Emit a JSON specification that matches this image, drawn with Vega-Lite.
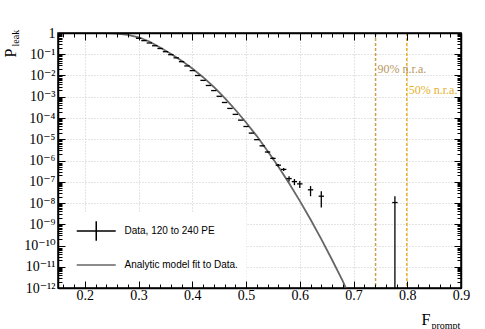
{
  "$schema": "https://vega.github.io/schema/vega-lite/v6.json",
  "width": 403,
  "height": 255,
  "autosize": {"type": "none"},
  "padding": {"left": 58, "top": 33, "right": 24, "bottom": 41},
  "background": "white",
  "config": {
    "view": {"stroke": "black", "strokeWidth": 1.5},
    "axis": {
      "labelFont": "Liberation Serif, DejaVu Serif",
      "labelFontSize": 14,
      "labelColor": "black",
      "titleFont": "Liberation Serif",
      "titleColor": "black",
      "titleFontWeight": "normal",
      "tickColor": "black",
      "tickWidth": 1,
      "domainColor": "black",
      "domainWidth": 1.5,
      "gridColor": "#c8c8c8",
      "gridDash": [1, 2],
      "gridWidth": 1,
      "labelOverlap": false,
      "labelBound": false,
      "labelFlush": false
    }
  },
  "datasets": {
    "model": [
      {"F": 0.15, "P": 1, "series": "Analytic model fit to Data."},
      {"F": 0.20, "P": 1, "series": "Analytic model fit to Data."},
      {"F": 0.22, "P": 0.998, "series": "Analytic model fit to Data."},
      {"F": 0.24, "P": 0.982, "series": "Analytic model fit to Data."},
      {"F": 0.26, "P": 0.933, "series": "Analytic model fit to Data."},
      {"F": 0.28, "P": 0.813, "series": "Analytic model fit to Data."},
      {"F": 0.30, "P": 0.631, "series": "Analytic model fit to Data."},
      {"F": 0.32, "P": 0.398, "series": "Analytic model fit to Data."},
      {"F": 0.34, "P": 0.209, "series": "Analytic model fit to Data."},
      {"F": 0.36, "P": 0.106, "series": "Analytic model fit to Data."},
      {"F": 0.38, "P": 0.0501, "series": "Analytic model fit to Data."},
      {"F": 0.40, "P": 0.0214, "series": "Analytic model fit to Data."},
      {"F": 0.42, "P": 0.00832, "series": "Analytic model fit to Data."},
      {"F": 0.44, "P": 0.00288, "series": "Analytic model fit to Data."},
      {"F": 0.46, "P": 8.91e-4, "series": "Analytic model fit to Data."},
      {"F": 0.48, "P": 2.45e-4, "series": "Analytic model fit to Data."},
      {"F": 0.50, "P": 6.17e-5, "series": "Analytic model fit to Data."},
      {"F": 0.52, "P": 1.41e-5, "series": "Analytic model fit to Data."},
      {"F": 0.54, "P": 2.82e-6, "series": "Analytic model fit to Data."},
      {"F": 0.56, "P": 5.25e-7, "series": "Analytic model fit to Data."},
      {"F": 0.58, "P": 8.51e-8, "series": "Analytic model fit to Data."},
      {"F": 0.60, "P": 1.26e-8, "series": "Analytic model fit to Data."},
      {"F": 0.62, "P": 1.66e-9, "series": "Analytic model fit to Data."},
      {"F": 0.64, "P": 2.0e-10, "series": "Analytic model fit to Data."},
      {"F": 0.66, "P": 2.14e-11, "series": "Analytic model fit to Data."},
      {"F": 0.68, "P": 2.09e-12, "series": "Analytic model fit to Data."},
      {"F": 0.70, "P": 1.5e-13, "series": "Analytic model fit to Data."}
    ],
    "points": [
      {"F": 0.30, "xlo": 0.295, "xhi": 0.305, "P": 0.5623, "lo": 0.5623, "hi": 0.5623},
      {"F": 0.31, "xlo": 0.305, "xhi": 0.315, "P": 0.4365, "lo": 0.4365, "hi": 0.4365},
      {"F": 0.32, "xlo": 0.315, "xhi": 0.325, "P": 0.3388, "lo": 0.3388, "hi": 0.3388},
      {"F": 0.33, "xlo": 0.325, "xhi": 0.335, "P": 0.2512, "lo": 0.2512, "hi": 0.2512},
      {"F": 0.34, "xlo": 0.335, "xhi": 0.345, "P": 0.1862, "lo": 0.1862, "hi": 0.1862},
      {"F": 0.35, "xlo": 0.345, "xhi": 0.355, "P": 0.1318, "lo": 0.1318, "hi": 0.1318},
      {"F": 0.36, "xlo": 0.355, "xhi": 0.365, "P": 0.0955, "lo": 0.0955, "hi": 0.0955},
      {"F": 0.37, "xlo": 0.365, "xhi": 0.375, "P": 0.0676, "lo": 0.0676, "hi": 0.0676},
      {"F": 0.38, "xlo": 0.375, "xhi": 0.385, "P": 0.0447, "lo": 0.0447, "hi": 0.0447},
      {"F": 0.39, "xlo": 0.385, "xhi": 0.395, "P": 0.0282, "lo": 0.0282, "hi": 0.0282},
      {"F": 0.40, "xlo": 0.395, "xhi": 0.405, "P": 0.0170, "lo": 0.0170, "hi": 0.0170},
      {"F": 0.41, "xlo": 0.405, "xhi": 0.415, "P": 0.0100, "lo": 0.0100, "hi": 0.0100},
      {"F": 0.42, "xlo": 0.415, "xhi": 0.425, "P": 0.00589, "lo": 0.00589, "hi": 0.00589},
      {"F": 0.43, "xlo": 0.425, "xhi": 0.435, "P": 0.00339, "lo": 0.00339, "hi": 0.00339},
      {"F": 0.44, "xlo": 0.435, "xhi": 0.445, "P": 0.00195, "lo": 0.00195, "hi": 0.00195},
      {"F": 0.45, "xlo": 0.445, "xhi": 0.455, "P": 0.00105, "lo": 0.00105, "hi": 0.00105},
      {"F": 0.46, "xlo": 0.455, "xhi": 0.465, "P": 5.37e-4, "lo": 5.35e-4, "hi": 5.39e-4},
      {"F": 0.47, "xlo": 0.465, "xhi": 0.475, "P": 2.82e-4, "lo": 2.803e-4, "hi": 2.837e-4},
      {"F": 0.48, "xlo": 0.475, "xhi": 0.485, "P": 1.48e-4, "lo": 1.4675e-4, "hi": 1.4925e-4},
      {"F": 0.49, "xlo": 0.485, "xhi": 0.495, "P": 7.94e-5, "lo": 7.85e-5, "hi": 8.03e-5},
      {"F": 0.50, "xlo": 0.495, "xhi": 0.505, "P": 3.98e-5, "lo": 3.915e-5, "hi": 4.045e-5},
      {"F": 0.51, "xlo": 0.505, "xhi": 0.515, "P": 1.95e-5, "lo": 1.905e-5, "hi": 1.995e-5},
      {"F": 0.52, "xlo": 0.515, "xhi": 0.525, "P": 9.55e-6, "lo": 9.23e-6, "hi": 9.87e-6},
      {"F": 0.53, "xlo": 0.525, "xhi": 0.535, "P": 4.90e-6, "lo": 4.67e-6, "hi": 5.13e-6},
      {"F": 0.54, "xlo": 0.535, "xhi": 0.545, "P": 2.51e-6, "lo": 2.35e-6, "hi": 2.67e-6},
      {"F": 0.55, "xlo": 0.545, "xhi": 0.555, "P": 1.26e-6, "lo": 1.145e-6, "hi": 1.375e-6},
      {"F": 0.56, "xlo": 0.555, "xhi": 0.565, "P": 6.03e-7, "lo": 5.23e-7, "hi": 6.83e-7},
      {"F": 0.57, "xlo": 0.565, "xhi": 0.575, "P": 3.80e-7, "lo": 3.17e-7, "hi": 4.43e-7},
      {"F": 0.58, "xlo": 0.575, "xhi": 0.585, "P": 1.41e-7, "lo": 1.025e-7, "hi": 1.795e-7},
      {"F": 0.59, "xlo": 0.585, "xhi": 0.595, "P": 1.02e-7, "lo": 6.93e-8, "hi": 1.347e-7},
      {"F": 0.60, "xlo": 0.595, "xhi": 0.605, "P": 7.94e-8, "lo": 5.05e-8, "hi": 1.083e-7},
      {"F": 0.62, "xlo": 0.615, "xhi": 0.625, "P": 4.17e-8, "lo": 2.08e-8, "hi": 6.26e-8},
      {"F": 0.64, "xlo": 0.635, "xhi": 0.645, "P": 2.09e-8, "lo": 6.1e-9, "hi": 3.57e-8},
      {"F": 0.777, "xlo": 0.772, "xhi": 0.782, "P": 1.05e-8, "lo": 1e-14, "hi": 2.1e-8}
    ],
    "nra": [
      {"F": 0.741, "P": 0.0137, "label": "90% n.r.a."},
      {"F": 0.799, "P": 0.0014, "label": "50% n.r.a."}
    ]
  },
  "resolve": {"axis": {"x": "independent", "y": "independent"}},
  "layer": [
    {
      "data": {"name": "model"},
      "mark": {"type": "line", "color": "#666666", "strokeWidth": 1.8, "clip": true},
      "encoding": {
        "x": {
          "field": "F", "type": "quantitative",
          "scale": {"domain": [0.15, 0.9], "nice": false, "zero": false},
          "axis": {"orient": "bottom", "grid": true, "values": [0.2, 0.3, 0.4, 0.5, 0.6, 0.7, 0.8], "labels": false, "ticks": false, "domain": false, "title": null, "zindex": 0}
        },
        "y": {
          "field": "P", "type": "quantitative",
          "scale": {"type": "log", "domain": [1e-12, 1], "nice": false},
          "axis": {"orient": "left", "grid": true, "values": [1e-11, 1e-10, 1e-9, 1e-8, 1e-7, 1e-6, 1e-5, 1e-4, 1e-3, 1e-2, 1e-1], "labels": false, "ticks": false, "domain": false, "title": null, "zindex": 0}
        }
      }
    },
    {
      "data": {"name": "points"},
      "mark": {"type": "rule", "color": "black", "strokeWidth": 1.3, "clip": true},
      "encoding": {
        "x": {
          "field": "xlo", "type": "quantitative",
          "axis": {"orient": "bottom", "values": [0.2, 0.3, 0.4, 0.5, 0.6, 0.7, 0.8, 0.9], "format": ".1f", "tickSize": -7, "labelPadding": 7, "domain": true, "grid": false,
            "title": "F", "titleX": 363, "titleY": 36, "titleFontSize": 16, "titleAlign": "left", "titleBaseline": "alphabetic", "titleAngle": 0, "zindex": 1}
        },
        "x2": {"field": "xhi"},
        "y": {
          "field": "P", "type": "quantitative",
          "axis": {"orient": "left", "values": [1e-12, 1e-11, 1e-10, 1e-9, 1e-8, 1e-7, 1e-6, 1e-5, 1e-4, 1e-3, 1e-2, 1e-1, 1],
            "labelExpr": "['1','10⁻¹','10⁻²','10⁻³','10⁻⁴','10⁻⁵','10⁻⁶','10⁻⁷','10⁻⁸','10⁻⁹','10⁻¹⁰','10⁻¹¹','10⁻¹²'][round(-log(datum.value)/LN10)]",
            "tickSize": -7, "labelPadding": 10, "domain": true, "grid": false,
            "title": "P", "titleX": -43, "titleY": 24, "titleFontSize": 16, "titleAngle": 270, "titleAlign": "left", "titleBaseline": "alphabetic", "zindex": 1}
        }
      }
    },
    {
      "data": {"name": "points"},
      "mark": {"type": "rule", "color": "black", "strokeWidth": 1.3, "clip": true},
      "encoding": {
        "x": {
          "field": "F", "type": "quantitative",
          "axis": {"orient": "bottom", "values": [0.16, 0.18, 0.22, 0.24, 0.26, 0.28, 0.32, 0.34, 0.36, 0.38, 0.42, 0.44, 0.46, 0.48, 0.52, 0.54, 0.56, 0.58, 0.62, 0.64, 0.66, 0.68, 0.72, 0.74, 0.76, 0.78, 0.82, 0.84, 0.86, 0.88],
            "tickSize": -4, "labels": false, "domain": false, "grid": false,
            "title": "prompt", "titleX": 373, "titleY": 40, "titleFontSize": 10, "titleAlign": "left", "titleBaseline": "alphabetic", "titleAngle": 0, "zindex": 1}
        },
        "y": {
          "field": "lo", "type": "quantitative",
          "axis": {"orient": "left", "values": [2e-12, 3e-12, 4e-12, 5e-12, 6e-12, 7e-12, 8e-12, 9e-12, 2e-11, 3e-11, 4e-11, 5e-11, 6e-11, 7e-11, 8e-11, 9e-11, 2e-10, 3e-10, 4e-10, 5e-10, 6e-10, 7e-10, 8e-10, 9e-10, 2e-9, 3e-9, 4e-9, 5e-9, 6e-9, 7e-9, 8e-9, 9e-9, 2e-8, 3e-8, 4e-8, 5e-8, 6e-8, 7e-8, 8e-8, 9e-8, 2e-7, 3e-7, 4e-7, 5e-7, 6e-7, 7e-7, 8e-7, 9e-7, 2e-6, 3e-6, 4e-6, 5e-6, 6e-6, 7e-6, 8e-6, 9e-6, 2e-5, 3e-5, 4e-5, 5e-5, 6e-5, 7e-5, 8e-5, 9e-5, 2e-4, 3e-4, 4e-4, 5e-4, 6e-4, 7e-4, 8e-4, 9e-4, 2e-3, 3e-3, 4e-3, 5e-3, 6e-3, 7e-3, 8e-3, 9e-3, 0.02, 0.03, 0.04, 0.05, 0.06, 0.07, 0.08, 0.09, 0.2, 0.3, 0.4, 0.5, 0.6, 0.7, 0.8, 0.9],
            "tickSize": -4, "labels": false, "domain": false, "grid": false,
            "title": "leak", "titleX": -39.5, "titleY": 13, "titleFontSize": 10, "titleAngle": 270, "titleAlign": "left", "titleBaseline": "alphabetic", "zindex": 1}
        },
        "y2": {"field": "hi"}
      }
    },
    {
      "data": {"name": "nra"},
      "mark": {"type": "rule", "strokeWidth": 1.5, "strokeDash": [3, 2]},
      "encoding": {
        "x": {
          "field": "F", "type": "quantitative",
          "axis": {"orient": "top", "values": [0.2, 0.3, 0.4, 0.5, 0.6, 0.7, 0.8, 0.9], "tickSize": -7, "labels": false, "domain": true, "grid": false, "title": null, "zindex": 1}
        },
        "stroke": {"field": "label", "type": "nominal", "scale": {"domain": ["90% n.r.a.", "50% n.r.a."], "range": ["#c8a050", "#e8b428"]}, "legend": null}
      }
    },
    {
      "data": {"name": "nra"},
      "mark": {"type": "text", "align": "left", "baseline": "alphabetic", "dx": 2, "font": "Liberation Serif", "fontSize": 12},
      "encoding": {
        "x": {
          "field": "F", "type": "quantitative",
          "axis": {"orient": "top", "values": [0.16, 0.18, 0.22, 0.24, 0.26, 0.28, 0.32, 0.34, 0.36, 0.38, 0.42, 0.44, 0.46, 0.48, 0.52, 0.54, 0.56, 0.58, 0.62, 0.64, 0.66, 0.68, 0.72, 0.74, 0.76, 0.78, 0.82, 0.84, 0.86, 0.88],
            "tickSize": -4, "labels": false, "domain": false, "grid": false, "title": null, "zindex": 1}
        },
        "y": {
          "field": "P", "type": "quantitative",
          "axis": {"orient": "right", "values": [1e-12, 1e-11, 1e-10, 1e-9, 1e-8, 1e-7, 1e-6, 1e-5, 1e-4, 1e-3, 1e-2, 1e-1, 1], "tickSize": -7, "labels": false, "domain": true, "grid": false, "title": null, "zindex": 1}
        },
        "text": {"field": "label"},
        "fill": {"field": "label", "type": "nominal", "scale": {"domain": ["90% n.r.a.", "50% n.r.a."], "range": ["#b8975f", "#e6b12c"]}, "legend": null}
      }
    },
    {
      "data": {"name": "model"},
      "mark": {"type": "point", "filled": false, "size": 0, "opacity": 0},
      "encoding": {
        "x": {"field": "F", "type": "quantitative", "axis": null},
        "y": {
          "field": "P", "type": "quantitative",
          "axis": {"orient": "right", "values": [2e-12, 3e-12, 4e-12, 5e-12, 6e-12, 7e-12, 8e-12, 9e-12, 2e-11, 3e-11, 4e-11, 5e-11, 6e-11, 7e-11, 8e-11, 9e-11, 2e-10, 3e-10, 4e-10, 5e-10, 6e-10, 7e-10, 8e-10, 9e-10, 2e-9, 3e-9, 4e-9, 5e-9, 6e-9, 7e-9, 8e-9, 9e-9, 2e-8, 3e-8, 4e-8, 5e-8, 6e-8, 7e-8, 8e-8, 9e-8, 2e-7, 3e-7, 4e-7, 5e-7, 6e-7, 7e-7, 8e-7, 9e-7, 2e-6, 3e-6, 4e-6, 5e-6, 6e-6, 7e-6, 8e-6, 9e-6, 2e-5, 3e-5, 4e-5, 5e-5, 6e-5, 7e-5, 8e-5, 9e-5, 2e-4, 3e-4, 4e-4, 5e-4, 6e-4, 7e-4, 8e-4, 9e-4, 2e-3, 3e-3, 4e-3, 5e-3, 6e-3, 7e-3, 8e-3, 9e-3, 0.02, 0.03, 0.04, 0.05, 0.06, 0.07, 0.08, 0.09, 0.2, 0.3, 0.4, 0.5, 0.6, 0.7, 0.8, 0.9],
            "tickSize": -4, "labels": false, "domain": false, "grid": false, "title": null, "zindex": 1}
        },
        "color": {
          "field": "series", "type": "nominal",
          "scale": {"domain": ["Data, 120 to 240 PE", "Analytic model fit to Data."], "range": ["black", "#666666"]},
          "legend": {"title": null, "orient": "none", "legendX": 1.5, "legendY": 180, "padding": 8, "fillColor": "white", "symbolSize": 380, "symbolStrokeWidth": 1.5, "symbolOpacity": 1, "labelFont": "Liberation Sans", "labelFontSize": 10, "labelColor": "black", "labelOffset": 36, "clipHeight": 20, "rowPadding": 14}
        },
        "shape": {
          "field": "series", "type": "nominal",
          "scale": {"domain": ["Data, 120 to 240 PE", "Analytic model fit to Data."], "range": ["M-0.13,0H3.87M1.87,-1V1", "M-0.13,0H3.87"]},
          "legend": {"title": null, "orient": "none", "legendX": 1.5, "legendY": 180, "padding": 8, "fillColor": "white", "symbolSize": 380, "symbolStrokeWidth": 1.5, "symbolOpacity": 1, "labelFont": "Liberation Sans", "labelFontSize": 10, "labelColor": "black", "labelOffset": 36, "clipHeight": 20, "rowPadding": 14}
        }
      }
    }
  ]
}
